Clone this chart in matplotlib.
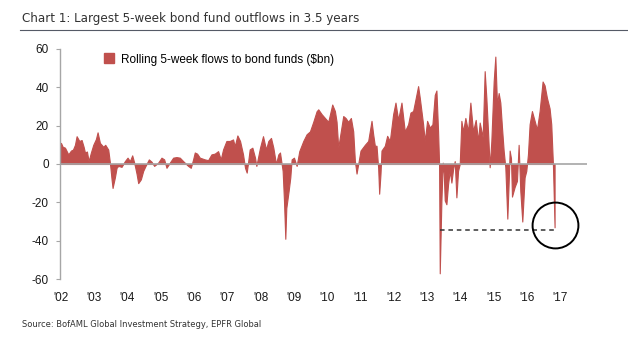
import matplotlib
matplotlib.use('Agg')
import matplotlib.pyplot as plt
from matplotlib.lines import Line2D

plt.rcParams['axes.unicode_minus'] = False

# rolling 5-week flows to bond funds ($bn)
dates = [
    2002.00, 2002.05, 2002.12, 2002.22, 2002.30, 2002.36, 2002.42, 2002.47, 2002.55, 2002.62,
    2002.68, 2002.72, 2002.78, 2002.83, 2002.90, 2002.97, 2003.05, 2003.10, 2003.17, 2003.27,
    2003.33, 2003.42, 2003.47, 2003.52, 2003.55, 2003.62, 2003.67, 2003.72, 2003.82, 2003.92,
    2004.00, 2004.07, 2004.14, 2004.20, 2004.27, 2004.32, 2004.40, 2004.47, 2004.54, 2004.64,
    2004.72, 2004.80, 2004.92, 2005.02, 2005.10, 2005.17, 2005.27, 2005.37, 2005.47, 2005.57,
    2005.67, 2005.82, 2005.90, 2005.97, 2006.02, 2006.09, 2006.17, 2006.32, 2006.42, 2006.52,
    2006.62, 2006.72, 2006.80, 2006.87, 2006.97, 2007.07, 2007.17, 2007.22, 2007.30, 2007.38,
    2007.47, 2007.53, 2007.58, 2007.62, 2007.67, 2007.75, 2007.83, 2007.87, 2007.98, 2008.07,
    2008.16, 2008.23, 2008.31, 2008.38, 2008.46, 2008.53, 2008.58, 2008.63, 2008.66, 2008.70,
    2008.74, 2008.77, 2008.84, 2008.89, 2008.93, 2009.00, 2009.08, 2009.16, 2009.28, 2009.38,
    2009.48, 2009.58, 2009.68, 2009.73, 2009.83, 2009.93, 2010.03, 2010.15, 2010.23, 2010.28,
    2010.33, 2010.38, 2010.48, 2010.55, 2010.63, 2010.71, 2010.78, 2010.83, 2010.88, 2010.93,
    2011.00, 2011.13, 2011.23, 2011.33, 2011.38, 2011.43, 2011.48, 2011.53, 2011.56, 2011.60,
    2011.63, 2011.73, 2011.80, 2011.88, 2011.98, 2012.05, 2012.13, 2012.23, 2012.33, 2012.43,
    2012.50, 2012.58, 2012.66, 2012.73, 2012.78, 2012.88, 2012.93, 2013.00, 2013.08, 2013.16,
    2013.23, 2013.28, 2013.33, 2013.36, 2013.38, 2013.43, 2013.47, 2013.50, 2013.53, 2013.58,
    2013.63, 2013.68, 2013.73, 2013.78, 2013.83, 2013.88, 2013.93, 2013.98, 2014.03, 2014.08,
    2014.15, 2014.23, 2014.30, 2014.38, 2014.46, 2014.53, 2014.58, 2014.67, 2014.73, 2014.78,
    2014.83, 2014.88, 2014.93, 2015.00, 2015.05, 2015.10, 2015.15, 2015.20, 2015.25, 2015.30,
    2015.35, 2015.41, 2015.46, 2015.48, 2015.52, 2015.55, 2015.63, 2015.70, 2015.75, 2015.80,
    2015.86, 2015.93, 2015.98, 2016.03, 2016.08, 2016.15, 2016.23, 2016.30, 2016.38, 2016.47,
    2016.53, 2016.60, 2016.68, 2016.73, 2016.78, 2016.83,
]
flows = [
    11, 9, 8.5, 5, 7, 7.5, 10, 14.5, 12, 12.5,
    9, 6, 6.5, 1.5, 6, 10, 13, 16.5, 11, 9,
    10, 7.5, 0.7, -8, -12.5, -7, -2, -1, -1.5, 1.5,
    3.3, 1.5, 4.5, 0.7, -5, -10, -8, -3.6, -1, 2.4,
    1.2, -1, 0.7, 3.3, 2.4, -2, 0.7, 3.3, 3.6, 3.3,
    1.5, -1, -2, 2.4, 6, 5.4, 3.3, 2.4, 2, 5,
    5.4, 6.7, 2.4, 7.6, 12, 12, 12.8, 9.3, 14.9, 12,
    5, -2, -4.5, 0.7, 7.6, 8.5, 3.3, -1, 8.5, 14.5,
    7.6, 12, 13.6, 8.5, 0, 5, 6, 0, -3.6, -19,
    -39, -23, -14, -7, 2.4, 3.3, -1, 6.7, 12, 15.5,
    17, 22, 27.5, 28.5, 26, 24, 22, 31, 27.6, 22,
    8.6, 14, 25, 24, 22, 24, 17, 1.7, -5, 0,
    7, 10, 12, 22.5, 15.5, 9.5, 9.5, -2, -15.5, -5,
    7, 9.5, 14.7, 12, 26, 32, 23, 32, 17, 20.7,
    26.8, 27.6, 34.5, 40.6, 34.5, 20.7, 12, 22.5, 19, 20.7,
    36, 38.3, 17, 0, -57, -19, 0.7, -5, -19, -21,
    -10.5, -3.6, -9.7, -2.8, 1.5, -17.4, -3.6, 0, 22.5, 17,
    24, 17, 32, 17, 23, 12, 21.6, 14, 48.4, 34.5,
    17, -1.7, 12, 43, 56, 31, 37, 32, 19, 7,
    -1.7, -28.5, -5, 7, 3, -17, -12, -8.8, 10, -14,
    -30, -7, -3.6, 5, 20.7, 27.6, 22.5, 18, 27.6, 43,
    41, 34.5, 29, 20.7, 0, -33,
]

year_ticks = list(range(2002, 2018))
year_labels = ["'%02d" % (y % 100) for y in year_ticks]
y_ticks = [-60, -40, -20, 0, 20, 40, 60]

bar_red = '#C0504D'
axis_gray = '#A6A6A6'

fig = plt.figure(figsize=(6.28, 3.42), dpi=100)
ax = fig.add_axes([0.0955, 0.184, 0.839, 0.673])

ax.fill_between(dates, flows, 0, color=bar_red, linewidth=0.8, edgecolor=bar_red)
ax.axhline(0, color=axis_gray, linewidth=1.2, zorder=1)

# comparison line + circle around the latest reading
ax.plot([2013.38, 2016.86], [-34.3, -34.3], color='#333333', linestyle=(0, (3, 2.5)), linewidth=1.1)
ax.plot([2016.83], [-31.6], marker='o', markersize=33, markerfacecolor='none',
        markeredgecolor='black', markeredgewidth=1.4, clip_on=False)

ax.set_xlim(2001.97, 2017.8)
ax.set_ylim(-60, 60)
ax.set_xticks(year_ticks)
ax.set_xticklabels(year_labels)
ax.set_yticks(y_ticks)
for s in ['top', 'right', 'bottom']:
    ax.spines[s].set_visible(False)
ax.spines['left'].set_color(axis_gray)
ax.spines['left'].set_linewidth(1.0)
ax.tick_params(axis='y', length=3, width=0.8, color=axis_gray, pad=5, labelsize=8.5)
ax.tick_params(axis='x', length=0, pad=9, labelsize=8.5)
for lab in ax.get_xticklabels() + ax.get_yticklabels():
    lab.set_family(['Liberation Sans', 'DejaVu Sans'])
    lab.set_color('#1a1a1a')

handle = Line2D([], [], marker='s', linestyle='none', markersize=6.5,
                markerfacecolor=bar_red, markeredgecolor=bar_red)
ax.legend([handle], ['Rolling 5-week flows to bond funds ($bn)'], loc='upper left',
          bbox_to_anchor=(0.062, 1.0), frameon=False, handletextpad=0.0, borderaxespad=0,
          prop={'family': ['Liberation Sans', 'DejaVu Sans'], 'size': 8.5})

fig.text(0.035, 0.945, 'Chart 1: Largest 5-week bond fund outflows in 3.5 years',
         family='DejaVu Sans', stretch='condensed', fontsize=9.5, color='#333333',
         va='center', ha='left')
fig.add_artist(Line2D([0.032, 1.0], [0.912, 0.912], color='#555a66', linewidth=0.8))
fig.text(0.035, 0.05, 'Source: BofAML Global Investment Strategy, EPFR Global',
         family='DejaVu Sans', stretch='condensed', fontsize=6.7, color='#333333',
         va='center', ha='left')

fig.savefig('out.png', dpi=100)
